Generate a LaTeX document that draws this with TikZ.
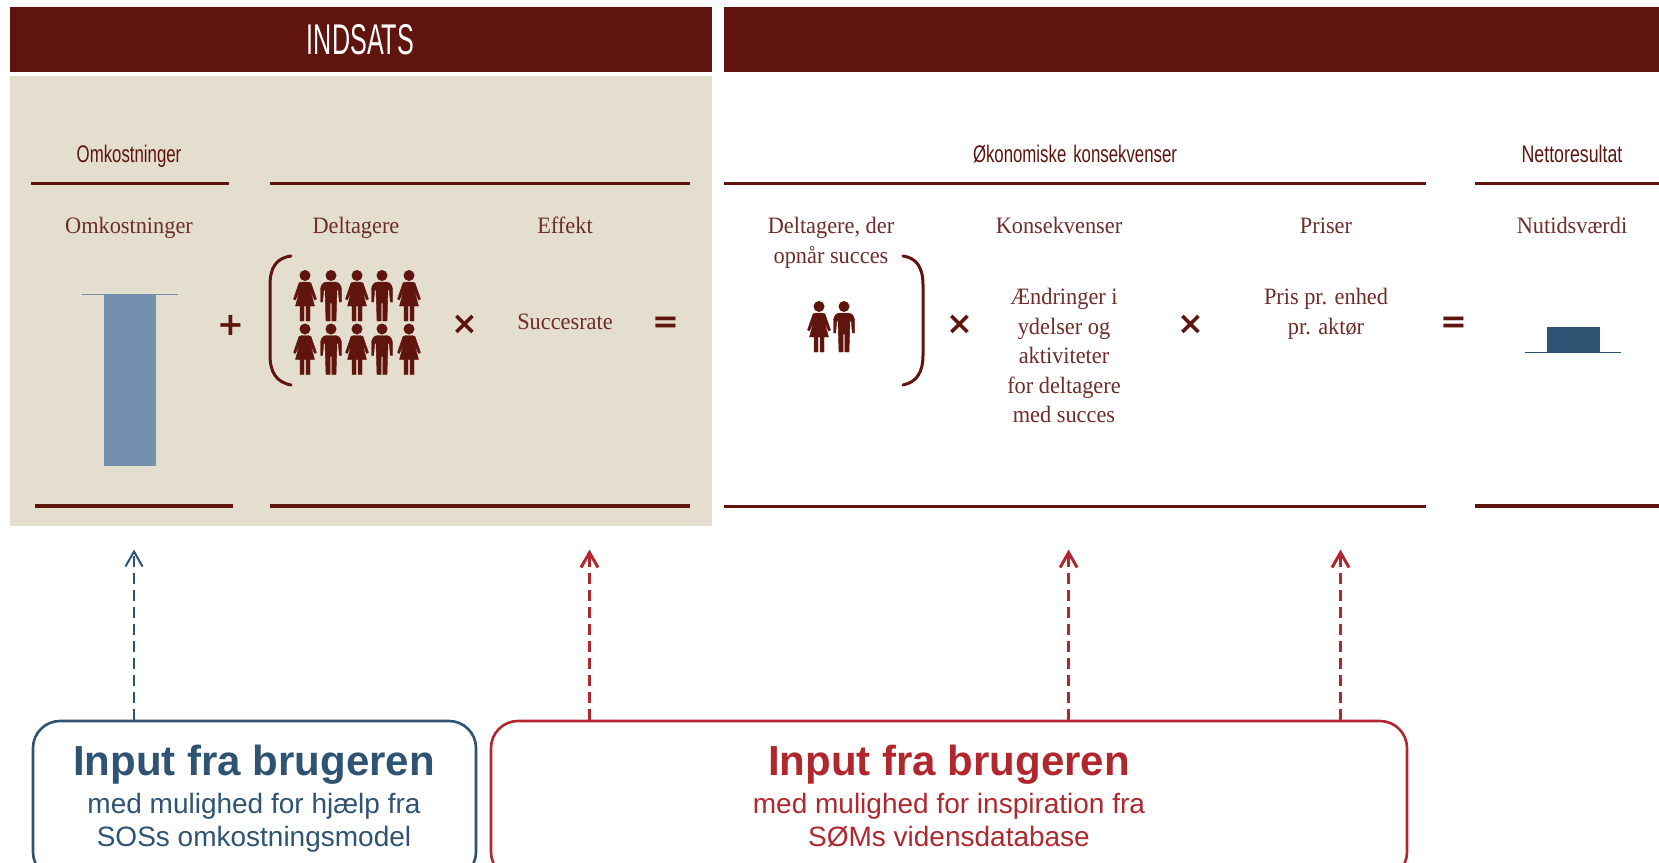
\documentclass[tikz,border=0pt]{standalone}
\usepackage{fontspec}
\usetikzlibrary{arrows.meta}
\setmainfont[FakeStretch=0.95]{Liberation Serif}
\newfontfamily\condfont[FakeStretch=0.585]{Liberation Sans}
\newfontfamily\condsmall[FakeStretch=0.70]{Liberation Sans}
\newfontfamily\condwide[FakeStretch=0.74]{Liberation Sans}
\newfontfamily\arialfont{Liberation Sans}
\newfontfamily\symfont{DejaVu Sans}
\definecolor{maroon}{HTML}{5F140E}
\definecolor{beige}{HTML}{E3DECE}
\definecolor{barblue}{HTML}{7391AF}
\definecolor{navy}{HTML}{2F5473}
\definecolor{redbox}{HTML}{B0282E}
\definecolor{serifred}{HTML}{6F2D2A}
\tikzset{
  band/.style={fill=maroon,draw=none},
  rule/.style={draw=maroon,line width=3.2pt},
  paren/.style={draw=maroon,line width=3pt,line cap=round},
  headA/.style={text=maroon,font=\condsmall\fontsize{24}{28}\selectfont,inner sep=0pt,anchor=base},
  lab/.style={text=serifred,font=\fontsize{23.5}{29.6}\selectfont,inner sep=0pt,align=center},
  opsym/.style={text=maroon,font=\symfont\bfseries\fontsize{32}{32}\selectfont,inner sep=0pt},
  inbox/.style={draw=#1,line width=2.6pt,rounded corners=27pt,fill=white,inner sep=0pt},
  bigt/.style={text=#1,font=\arialfont\bfseries\fontsize{42}{46}\selectfont,inner sep=0pt,anchor=base},
  subt/.style={text=#1,font=\arialfont\fontsize{28}{33}\selectfont,inner sep=0pt,align=center},
  arrowup/.style={draw=#1,dashed,dash pattern=on 11pt off 6pt,-{Straight Barb[length=15pt,width=17pt]}},
  woman/.pic={
    \fill[maroon] (0,5.5) circle (5.5);
    \fill[maroon,draw=maroon,line width=0.4pt,line join=round]
      (-3,12) -- (3,12) -- (6,13) -- (11.5,29) -- (9.5,30) -- (5,19) -- (9.5,36) -- (5,36)
      -- (5,51) -- (1,51) -- (1,36) -- (-1,36) -- (-1,51) -- (-5,51) -- (-5,36) -- (-9.5,36)
      -- (-5,19) -- (-9.5,30) -- (-11.5,29) -- (-6,13) -- cycle;
  },
  man/.pic={
    \fill[maroon] (0,5.5) circle (5.5);
    \fill[maroon,draw=maroon,line width=0.4pt,line join=round]
      (-4,12) -- (4,12) .. controls (8,12) and (10,15) .. (10.5,19) -- (10.5,32) -- (8.3,32) -- (7.3,20) -- (6,20)
      -- (5,51) -- (0.8,51) -- (0.8,33) -- (-0.8,33) -- (-0.8,51) -- (-5,51) -- (-6,20) -- (-7.3,20)
      -- (-8.3,32) -- (-10.5,32) -- (-10.5,19) .. controls (-10,15) and (-8,12) .. (-4,12) -- cycle;
  }
}
\begin{document}
\begin{tikzpicture}[x=1pt,y=-1pt]
\useasboundingbox (0,0) rectangle (1659,862);
\clip (0,0) rectangle (1659,862);
\fill[white] (0,0) rectangle (1659,862);
% bands
\fill[band] (10,7) rectangle (712,72);
\fill[band] (724,7) rectangle (1659,72);
\fill[beige] (10,76) rectangle (712,526);
\node[text=white,font=\condfont\fontsize{43}{48}\selectfont,inner sep=0pt] (indsats) at (360.5,39.5) {INDSATS};
% rules
\draw[rule] (31,183.5) -- (229,183.5);
\draw[rule] (270,183.5) -- (690,183.5);
\draw[rule] (724,183.5) -- (1426,183.5);
\draw[rule] (1475,183.5) -- (1659,183.5);
\draw[rule] (35,506) -- (233,506);
\draw[rule] (270,506) -- (690,506);
\draw[rule] (724,506.5) -- (1426,506.5);
\draw[rule] (1475,506) -- (1659,506);
% group headings
\node[headA] (h1) at (129,162) {Omkostninger};
\node[headA] (h2) at (1075,162) {Økonomiske\hspace{7pt}konsekvenser};
\node[headA,font=\condwide\fontsize{24}{28}\selectfont] (h3) at (1572,162) {Nettoresultat};
% column labels
\node[lab,anchor=base] (c1) at (129,233) {Omkostninger};
\node[lab,anchor=base] (c2) at (356,233) {Deltagere};
\node[lab,anchor=base] (c3) at (565,233) {Effekt};
\node[lab,anchor=north] (c4) at (831,217) {Deltagere, der\\opnår succes};
\node[lab,anchor=base] (c5) at (1059,233) {Konsekvenser};
\node[lab,anchor=base] (c6) at (1326,233) {Priser};
\node[lab,anchor=base] (c7) at (1572,233) {Nutidsværdi};
\node[lab,anchor=base] (suc) at (565,329) {Succesrate};
\node[lab,anchor=north] (aend) at (1064,288) {Ændringer i\\ydelser og\\aktiviteter\\for deltagere\\med succes};
\node[lab,anchor=north] (pris) at (1326,288) {Pris pr. enhed\\pr. aktør};
% operators
\node[opsym] (op1) at (231,325) {+};
\node[opsym] (op2) at (464.5,325) {×};
\node[opsym] (op3) at (665.5,325) {=};
\node[opsym] (op4) at (960,325) {×};
\node[opsym] (op5) at (1191,325) {×};
\node[opsym] (op6) at (1454,325) {=};
% bars
\fill[barblue] (104,294.5) rectangle (156,466);
\draw[barblue,line width=1.5pt] (81.5,294.5) -- (178,294.5);
\fill[navy] (1547,327) rectangle (1600,352.5);
\draw[navy,line width=1.5pt] (1525,352.5) -- (1621,352.5);
% brackets
\draw[paren] (291,256) .. controls (276,258) and (270,268) .. (270,285) -- (270,355) .. controls (270,372) and (276,382) .. (291,385);
\draw[paren] (903,256) .. controls (917,258) and (923,268) .. (923,285) -- (923,355) .. controls (923,372) and (917,382) .. (903,385);
% people
\foreach \r in {270,323.5}{
  \pic at (305,\r) {woman};
  \pic at (331,\r) {man};
  \pic at (357,\r) {woman};
  \pic at (382,\r) {man};
  \pic at (409,\r) {woman};
}
\pic at (819,301) {woman};
\pic at (844,301) {man};
% boxes
\node[inbox=navy,minimum width=443pt,minimum height=158pt] (blue) at (254.5,800) {};
\node[inbox=redbox,minimum width=916pt,minimum height=158pt] (red) at (949,800) {};
\node[bigt=navy] (bt) at (254,775) {Input fra brugeren};
\node[subt=navy,anchor=north] (bs) at (254,793) {med mulighed for hjælp fra\\SOSs omkostningsmodel};
\node[bigt=redbox] (rt) at (949,775) {Input fra brugeren};
\node[subt=redbox,anchor=north] (rs) at (949,793) {med mulighed for inspiration fra\\SØMs vidensdatabase};
% arrows
\coordinate (t1) at (134,549.5);
\coordinate (t2) at (589.5,549.5);
\coordinate (t3) at (1068.6,549.5);
\coordinate (t4) at (1340.5,549.5);
\draw[arrowup=navy,line width=2pt] (t1 |- blue.north) -- (t1);
\draw[arrowup=redbox,line width=3pt] (t2 |- red.north) -- (t2);
\draw[arrowup=redbox,line width=3pt] (t3 |- red.north) -- (t3);
\draw[arrowup=redbox,line width=3pt] (t4 |- red.north) -- (t4);
\end{tikzpicture}
\end{document}
